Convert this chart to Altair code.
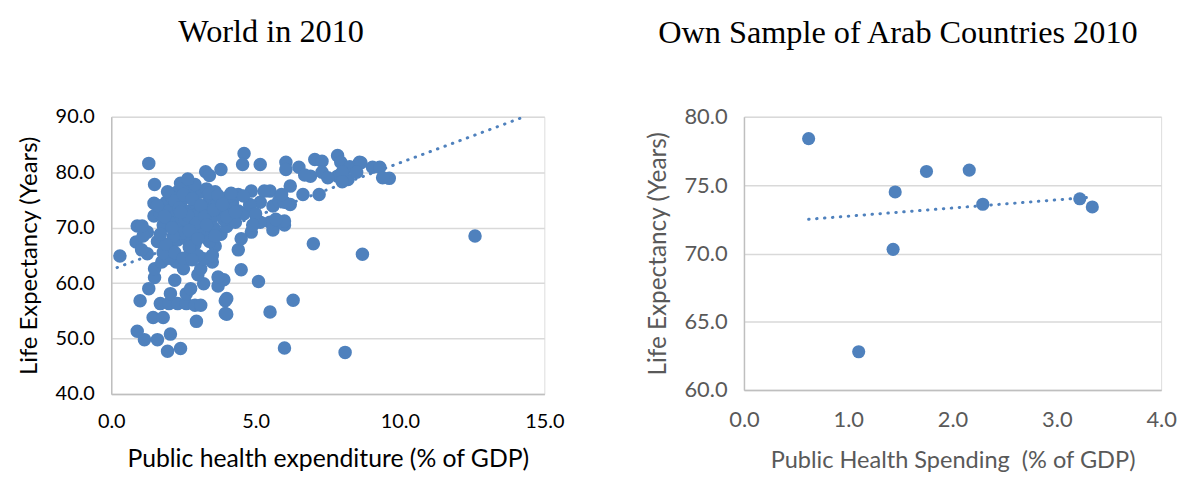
import altair as alt
import pandas as pd

# ---------------- data ----------------
world_x = [
    0.3, 1.3, 1.5, 12.6, 8.7, 8.1, 6.0, 6.3, 5.5, 5.1, 7.0, 4.5, 4.4, 5.6, 6.0, 4.85, 4.5, 4.0, 4.0, 3.9,
    1.0, 1.7, 2.0, 2.3, 2.6, 2.9, 3.1, 1.45, 1.8, 2.95, 0.9, 1.15, 1.6, 2.05, 1.95, 2.4, 3.95, 3.95, 1.3,
    2.05, 2.6, 3.2, 3.7, 2.75, 1.5, 2.2, 3.0,
    0.86, 0.9, 1.25, 1.25, 1.5, 1.75, 1.9, 2.4, 2.8, 2.75, 2.25, 2.5, 3.1, 3.5, 3.7, 3.6, 3.3, 3.2, 1.05,
    1.1, 1.6, 2.0, 2.3, 2.6, 2.9, 3.0, 2.0, 1.8, 3.4, 3.8, 4.0,
    1.48, 1.48, 1.07, 1.9, 2.6, 3.27, 3.4, 3.8, 2.27, 2.5, 3.1, 4.06, 1.7, 2.0, 2.2, 2.4, 2.6, 2.7, 2.9,
    3.0, 3.2, 3.4, 3.6, 3.8, 4.0, 4.2, 4.4, 2.1, 2.3, 2.55, 2.85, 3.1, 3.5, 3.9, 4.3, 2.0, 1.8, 2.7, 2.9,
    3.3, 3.6, 2.4, 2.65, 1.95, 1.6, 4.6, 4.8, 2.45, 2.15, 3.05, 3.55, 2.7, 1.9,
    4.6, 4.55, 5.16, 6.05, 6.05, 6.5, 7.05, 7.3, 7.84, 7.95, 6.9, 7.3, 7.84, 8.2, 6.2, 6.64, 7.2, 5.5,
    5.6, 6.2, 6.0, 4.85, 5.16, 4.4, 4.8, 4.1, 5.5, 5.7, 5.16, 8.26, 8.6, 9.05, 9.3, 9.63, 9.4, 8.0, 8.0,
    8.65, 5.8, 5.3, 4.58, 6.0, 6.7, 7.5, 8.5, 5.9, 5.0, 4.9,
    2.2, 2.5, 2.8, 3.1, 3.4, 3.7, 4.0, 4.3, 2.35, 2.65, 2.95, 3.25, 3.55, 3.85, 4.15, 1.85, 2.1, 2.4,
    2.7, 3.0, 3.3, 3.6, 1.7, 2.2, 2.5, 2.8, 3.5,
]
world_y = [
    64.9, 81.6, 77.8, 68.5, 65.2, 47.5, 48.3, 56.9, 54.8, 60.3, 67.1, 62.4, 66.0, 69.6, 70.5, 69.2, 68.0, 57.2, 54.4, 60.6,
    56.8, 56.3, 56.3, 56.3, 56.3, 56.0, 56.0, 53.8, 53.8, 53.1, 51.3, 49.8, 49.8, 50.8, 47.7, 48.2, 54.5, 56.8, 59.0,
    58.1, 58.1, 59.9, 59.5, 59.0, 61.0, 60.5, 61.5,
    67.4, 70.3, 69.2, 65.3, 62.6, 63.8, 70.3, 69.7, 70.3, 65.6, 63.8, 62.6, 62.6, 63.8, 61.1, 66.7, 69.2, 64.4, 66.0,
    68.5, 67.5, 66.5, 67.8, 68.0, 67.0, 65.0, 64.5, 65.5, 67.5, 68.8, 70.2,
    74.4, 72.1, 70.3, 74.6, 78.3, 80.1, 79.4, 80.5, 76.4, 77.3, 76.4, 75.5, 72.5, 73.0, 72.0, 74.0, 75.5, 73.0, 74.5,
    72.5, 73.5, 75.0, 74.0, 72.5, 73.5, 74.5, 73.0, 75.5, 71.0, 71.5, 72.0, 71.0, 71.8, 71.5, 71.0, 71.0, 70.5, 76.8, 77.8,
    77.0, 76.5, 78.0, 78.8, 76.5, 74.0, 72.5, 74.0, 69.0, 68.5, 69.5, 70.0, 66.5, 67.0,
    83.4, 81.4, 81.4, 81.8, 80.5, 80.9, 82.3, 82.0, 83.0, 81.8, 79.3, 80.0, 79.3, 78.7, 77.5, 76.0, 76.0, 76.6,
    73.9, 74.2, 71.2, 76.6, 74.6, 76.0, 74.2, 75.7, 71.0, 71.5, 71.0, 81.0, 81.8, 80.9, 80.9, 78.9, 79.0, 80.0, 78.3,
    81.7, 74.8, 76.6, 75.7, 74.6, 79.5, 79.0, 80.0, 76.0, 72.5, 70.5,
    74.8, 76.0, 75.2, 74.0, 76.2, 75.8, 72.0, 72.8, 73.5, 72.2, 70.8, 72.0, 73.2, 74.2, 76.2, 72.0, 70.0, 72.8,
    69.5, 68.0, 70.5, 68.5, 68.8, 65.5, 64.5, 64.2, 65.0,
]
world_trend_x = [0.2, 14.3]
world_trend_y = [62.8, 90.0]

arab_x = [0.62, 1.10, 1.43, 1.45, 1.75, 2.16, 2.29, 3.22, 3.34]
arab_y = [78.4, 62.8, 70.3, 74.5, 76.0, 76.1, 73.6, 74.0, 73.4]
arab_trend_x = [0.62, 3.30]
arab_trend_y = [72.5, 74.1]

left_x_ticks = [0, 5, 10, 15]
left_y_ticks = [40, 50, 60, 70, 80, 90]
right_x_ticks = [0, 1, 2, 3, 4]
right_y_ticks = [60, 65, 70, 75, 80]

# ---------------- styling ----------------
BLUE = "#4F81BD"
GRID = "#D9D9D9"
AXIS = "#BFBFBF"
SANS = "Lato"
SERIF = "Liberation Serif"

world = pd.DataFrame({"x": world_x, "y": world_y})
world_trend = pd.DataFrame({"x": world_trend_x, "y": world_trend_y})
arab = pd.DataFrame({"x": arab_x, "y": arab_y})
arab_trend = pd.DataFrame({"x": arab_trend_x, "y": arab_trend_y})


def panel(points, trend, xdom, ydom, xt, yt, xtitle, ytitle, title, tcolor, w, h,
          title_dx, size, lfs, xtfs, ytfs, xlp, xtp, toff):
    xax = alt.Axis(values=xt, format=".1f", title=xtitle, grid=False, ticks=False,
                   domainColor=AXIS, domainWidth=1.5, labelFont=SANS, labelFontSize=lfs,
                   labelColor=tcolor, labelPadding=xlp, titleFont=SANS, titleFontSize=xtfs,
                   titleFontWeight="normal", titleColor=tcolor, titlePadding=xtp,
                   labelFlush=False)
    yax = alt.Axis(values=yt, format=".1f", title=ytitle, grid=True, gridColor=GRID,
                   gridWidth=1.5, ticks=False, domainColor=AXIS, domainWidth=1.5,
                   labelFont=SANS, labelFontSize=lfs, labelColor=tcolor, labelPadding=17,
                   titleFont=SANS, titleFontSize=ytfs, titleFontWeight="normal",
                   titleColor=tcolor, titlePadding=14, labelFlush=False)
    xs = alt.Scale(domain=xdom, nice=False, zero=False)
    ys = alt.Scale(domain=ydom, nice=False, zero=False)
    line = alt.Chart(trend).mark_line(
        color=BLUE, strokeWidth=3, strokeDash=[0.5, 7.5], strokeCap="round", clip=True
    ).encode(x=alt.X("x:Q", scale=xs, axis=xax), y=alt.Y("y:Q", scale=ys, axis=yax))
    pts = alt.Chart(points).mark_circle(color=BLUE, opacity=1, size=size).encode(
        x=alt.X("x:Q", scale=xs), y=alt.Y("y:Q", scale=ys)
    )
    return alt.layer(line, pts).properties(
        width=w, height=h,
        title=alt.TitleParams(title, font=SERIF, fontSize=32.5, fontWeight="normal",
                              color="#000000", anchor="middle", dx=title_dx, offset=toff),
    )


left = panel(world, world_trend, [0, 15], [40, 90], left_x_ticks, left_y_ticks,
             "Public health expenditure (% of GDP)", "Life Expectancy (Years)",
             "World in 2010", "#000000", 436, 279, -57, 185, 20, 24.9, 24, 18, 15, 59)
right = panel(arab, arab_trend, [0, 4], [60, 80], right_x_ticks, right_y_ticks,
              "Public Health Spending\u00a0\u00a0(% of GDP)", "Life Expectancy (Years)",
              "Own Sample of Arab Countries 2010", "#595959", 420, 275, -55, 175, 22, 23.7, 24.5,
              20, 18, 57)

chart = alt.hconcat(left, right, spacing=80).properties(
    padding={"left": 16, "top": 14, "right": 5, "bottom": 5}
).configure_view(stroke=None).configure(background="white")

chart.save("out.html", embed_options={"renderer": "svg", "actions": False})
